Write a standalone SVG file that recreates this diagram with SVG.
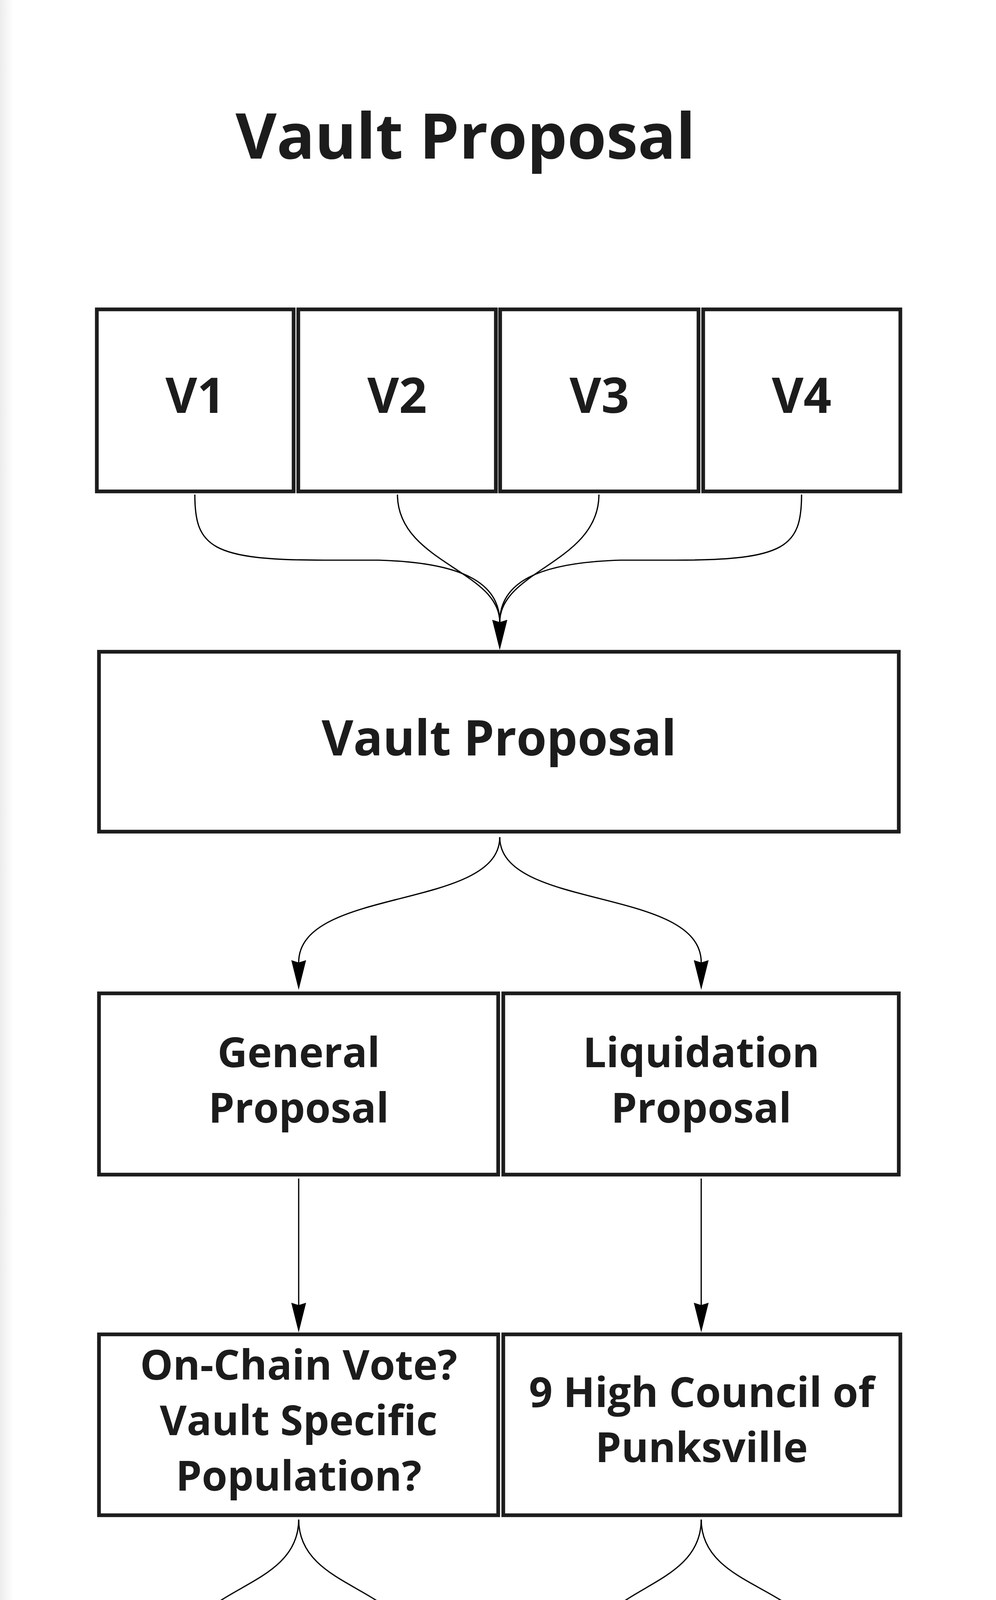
<svg xmlns="http://www.w3.org/2000/svg" width="2551" height="6270" viewBox="0 0 2551 6270">
<defs>
<linearGradient id="edge" x1="0" y1="0" x2="1" y2="0">
<stop offset="0" stop-color="#ececec"/>
<stop offset="1" stop-color="#ffffff"/>
</linearGradient>
<marker id="arr" markerUnits="userSpaceOnUse" viewBox="-78 -22 82 44" markerWidth="82" markerHeight="44" refX="-70" refY="0" orient="auto">
<path d="M0,0 L-76,-19 L-70,0 L-76,19 Z" fill="#000"/>
</marker>
<style>
.box{fill:#fff;stroke:#1c1c1c;stroke-width:9.5}
.b{font-family:"Open Sans","Noto Sans","DejaVu Sans",sans-serif;font-weight:700;fill:#1c1c1c;text-anchor:middle}
.l{font-family:"Open Sans","Noto Sans","DejaVu Sans",sans-serif;font-weight:300;fill:#1c1c1c;text-anchor:middle}
.c{fill:none;stroke:#000;stroke-width:3.2;marker-end:url(#arr)}
</style>
</defs>
<rect x="0" y="0" width="2551" height="6270" fill="#fff"/>
<rect x="0" y="0" width="34" height="6270" fill="url(#edge)"/>
<text class="b" x="1192" y="406" font-size="162">Vault Proposal</text>

<g id="connectors">
<path class="c" d="M499,1266 C499,1400 540,1434 830,1434 L970,1434 C1180,1440 1280,1490 1280,1593"/>
<path class="c" d="M1018,1266 C1018,1440 1280,1460 1280,1593"/>
<path class="c" d="M1534,1266 C1534,1440 1280,1460 1280,1593"/>
<path class="c" d="M2053,1266 C2053,1400 2012,1434 1730,1434 L1590,1434 C1380,1440 1280,1490 1280,1593"/>
<path class="c" d="M1280,2143 C1280,2330 765,2270 765,2464"/>
<path class="c" d="M1280,2143 C1280,2330 1796,2270 1796,2464"/>
<path class="c" d="M765,3017 L765,3341"/>
<path class="c" d="M1796,3017 L1796,3341"/>
<path class="c" d="M765,3890 C765,4070 486,4060 486,4215"/>
<path class="c" d="M765,3890 C765,4070 1043,4060 1043,4215"/>
<path class="c" d="M1796,3890 C1796,4070 1524,4060 1524,4215"/>
<path class="c" d="M1796,3890 C1796,4070 2082,4060 2082,4215"/>
<path class="c" d="M1043,4763 L1043,4864"/>
<path class="c" d="M2082,4763 L2082,4864"/>
<path class="c" d="M486,4763 C486,5050 758,5200 758,5483"/>
<path class="c" d="M1524,4763 C1524,5050 1796,5200 1796,5479"/>
</g>

<g id="v1"><rect class="box" x="248" y="792" width="504" height="466"/><text class="b" x="500" y="1057" font-size="125">V1</text></g>
<g id="v2"><rect class="box" x="764" y="792" width="506" height="466"/><text class="b" x="1017" y="1057" font-size="125">V2</text></g>
<g id="v3"><rect class="box" x="1281" y="792" width="508" height="466"/><text class="b" x="1535" y="1057" font-size="125">V3</text></g>
<g id="v4"><rect class="box" x="1801" y="792" width="505" height="466"/><text class="b" x="2053" y="1057" font-size="125">V4</text></g>

<g id="vault-proposal"><rect class="box" x="253.5" y="1668.5" width="2048.5" height="460.5"/><text class="b" x="1278" y="1934" font-size="125">Vault Proposal</text></g>

<g id="general-proposal"><rect class="box" x="253.5" y="2543" width="1022.5" height="464"/><text class="b" x="765" y="2732" font-size="106">General</text><text class="b" x="765" y="2874" font-size="106">Proposal</text></g>
<g id="liquidation-proposal"><rect class="box" x="1289" y="2543" width="1013" height="464"/><text class="b" x="1796" y="2732" font-size="106">Liquidation</text><text class="b" x="1796" y="2874" font-size="106">Proposal</text></g>

<g id="on-chain-vote"><rect class="box" x="253.5" y="3416" width="1022.5" height="463"/><text class="b" x="765" y="3532" font-size="106">On-Chain Vote?</text><text class="b" x="765" y="3674" font-size="106">Vault Specific</text><text class="b" x="765" y="3816" font-size="106">Population?</text></g>
<g id="high-council"><rect class="box" x="1289" y="3416" width="1017" height="463"/><text class="b" x="1797" y="3602" font-size="106">9 High Council of</text><text class="b" x="1797" y="3743" font-size="106">Punksville</text></g>

<g id="pass-left"><rect class="box" x="253.5" y="4289" width="465.5" height="466"/><text class="l" x="487" y="4551" font-size="112">Pass</text></g>
<g id="fail-left"><rect class="box" x="810" y="4289" width="466.5" height="466"/><text class="l" x="1043" y="4551" font-size="112">Fail</text></g>
<g id="pass-right"><rect class="box" x="1293" y="4289" width="464" height="466"/><text class="l" x="1525" y="4551" font-size="112">Pass</text></g>
<g id="fail-right"><rect class="box" x="1849" y="4289" width="464.5" height="466"/><text class="l" x="2082" y="4551" font-size="112">Fail</text></g>

<g id="thrown-left"><rect class="box" x="810" y="4940" width="466" height="345"/><text class="l" x="1043" y="5066" font-size="110">Thrown</text><text class="l" x="1043" y="5216" font-size="110">out</text></g>
<g id="thrown-right"><rect class="box" x="1850" y="4940" width="463" height="345"/><text class="l" x="2082" y="5066" font-size="110">Thrown</text><text class="l" x="2082" y="5216" font-size="110">out</text></g>

<g id="vault-minister"><rect class="box" x="248" y="5560" width="1020" height="465"/><text class="b" x="758" y="5680" font-size="106">Vault Minister</text><text class="b" x="758" y="5822" font-size="106">Implements</text><text class="b" x="758" y="5965" font-size="106">Proposal</text></g>
<g id="cryptopunk"><rect class="box" x="1288" y="5560" width="1016" height="465"/><text class="b" x="1796" y="5749" font-size="106">CryptoPunk Listed</text><text class="b" x="1796" y="5889" font-size="106">For Sale</text></g>
</svg>
